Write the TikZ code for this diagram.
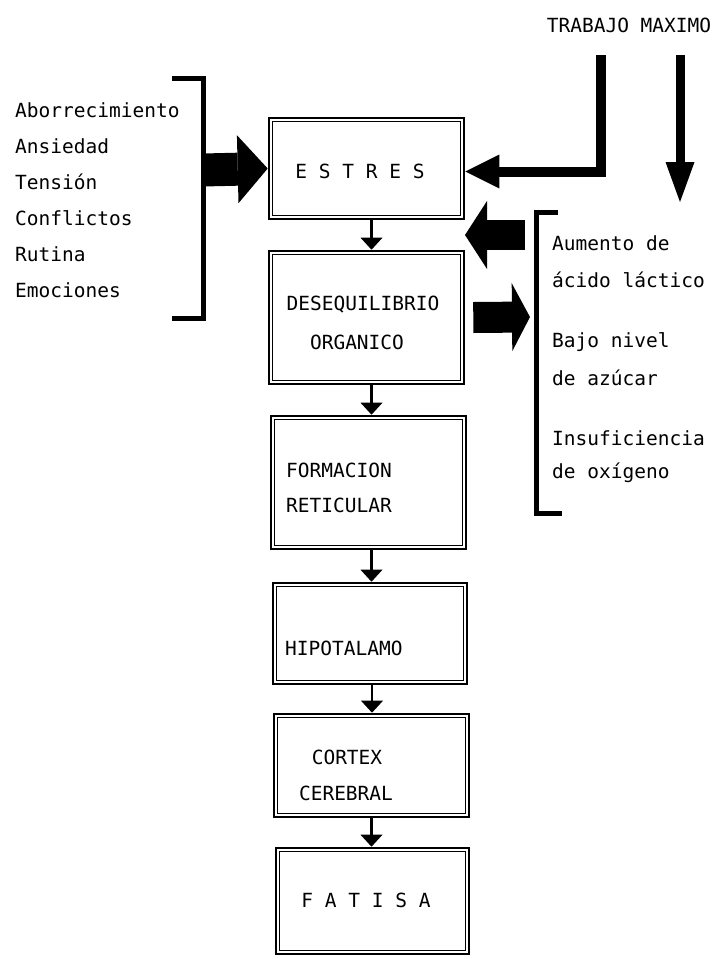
\documentclass[tikz,border=0pt]{standalone}
\usepackage{fontspec}
\setmonofont{DejaVu Sans Mono}
\usetikzlibrary{arrows.meta}

\begin{document}
\begin{tikzpicture}[x=1pt, y=-1pt,
  font=\ttfamily\fontsize{19.5}{23}\selectfont,
  caja/.style={draw, line width=2.6pt, inner sep=0pt,
    path picture={\draw[line width=1pt]
      ([shift={(3.4pt,-3.4pt)}]path picture bounding box.north west) rectangle
      ([shift={(-3.4pt,3.4pt)}]path picture bounding box.south east);}},
  texto/.style={inner sep=0pt},
  paso/.style={line width=2.6pt, -{Triangle[length=12pt, width=22pt, line width=0pt]}},
  gorda/.style={-{Triangle[length=#1, width=68pt, line width=0pt]}},
  llave/.style={line width=5pt, line join=miter}]
\useasboundingbox (0,0) rectangle (716,959);

% cajas de la cadena
\node[caja, minimum width=195pt, minimum height=101pt] (estres) at (366.5,168.5) {};
\node[caja, minimum width=195pt, minimum height=133pt] (deseq) at (366.5,317.5) {};
\node[caja, minimum width=195pt, minimum height=133pt] (formacion) at (368.5,482.5) {};
\node[caja, minimum width=194pt, minimum height=101pt] (hipotalamo) at (370,633.5) {};
\node[caja, minimum width=195pt, minimum height=103pt] (cortex) at (371.5,765.5) {};
\node[caja, minimum width=193pt, minimum height=106pt] (fatiga) at (372.5,901) {};

\node[texto] (tEstres) at (360,171) {E S T R E S};
\node[texto] (tDeseq1) at (363,305) {DESEQUILIBRIO};
\node[texto] (tDeseq2) at (357,342) {ORGANICO};
\node[texto, anchor=west] (tForm1) at (286,470) {FORMACION};
\node[texto, anchor=west] (tForm2) at (286,505) {RETICULAR};
\node[texto, anchor=west] (tHipo) at (285,648) {HIPOTALAMO};
\node[texto] (tCortex1) at (347,757) {CORTEX};
\node[texto] (tCortex2) at (346,793) {CEREBRAL};
\node[texto] (tFatiga) at (366,900) {F A T I S A};

\draw[paso] ([xshift=5pt]estres.south) -- ([xshift=5pt]estres.south |- deseq.north);
\draw[paso] ([xshift=5pt]deseq.south) -- ([xshift=5pt]deseq.south |- formacion.north);
\draw[paso] ([xshift=3pt]formacion.south) -- ([xshift=3pt]formacion.south |- hipotalamo.north);
\draw[paso] ([xshift=2pt]hipotalamo.south) -- ([xshift=2pt]hipotalamo.south |- cortex.north);
\draw[paso] (cortex.south) -- (cortex.south |- fatiga.north);

% causas psicologicas
\foreach \causa [count=\i] in {Aborrecimiento, Ansiedad, Tensión, Conflictos, Rutina, Emociones}
  \node[texto, anchor=west] (causa\i) at (15,74+36*\i) {\causa};
\draw[llave] (172,78) -- (203,78) -- (203,318) -- (172,318);
\coordinate (llaveI) at (203,170);
\draw[gorda=30pt, line width=33pt] (llaveI) -- (estres.west);

% trabajo maximo
\node[texto] (trabajo) at (629,25) {TRABAJO MAXIMO};
\coordinate (trabajoA) at (601,55);
\coordinate (trabajoB) at (680,55);
\coordinate (trabajoC) at (680,202);
\draw[line width=10pt, -{Triangle[length=34pt, width=34pt, line width=0pt]}]
  (trabajoA) |- ([yshift=-3pt]estres.east);
\draw[line width=9pt, -{Triangle[length=40pt, width=29pt, line width=0pt]}]
  (trabajoB) -- (trabajoC);

% causas fisiologicas
\draw[llave] (558,212) -- (536,212) -- (536,513) -- (562,513);
\coordinate (llaveD1) at (525,235);
\coordinate (hueco) at (465,235);
\coordinate (llaveD2) at (530,317);
\draw[gorda=22pt, line width=30pt] (llaveD1) -- (hueco);
\draw[gorda=18pt, line width=31pt] ([xshift=8pt]deseq.east) -- (llaveD2);

\node[texto, anchor=west] (fis1) at (552,243) {Aumento de};
\node[texto, anchor=west] (fis2) at (552,280) {ácido láctico};
\node[texto, anchor=west] (fis3) at (552,342) {Bajo nivel};
\node[texto, anchor=west] (fis4) at (552,378) {de azúcar};
\node[texto, anchor=west] (fis5) at (552,438) {Insuficiencia};
\node[texto, anchor=west] (fis6) at (552,473) {de oxígeno};
\end{tikzpicture}
\end{document}
